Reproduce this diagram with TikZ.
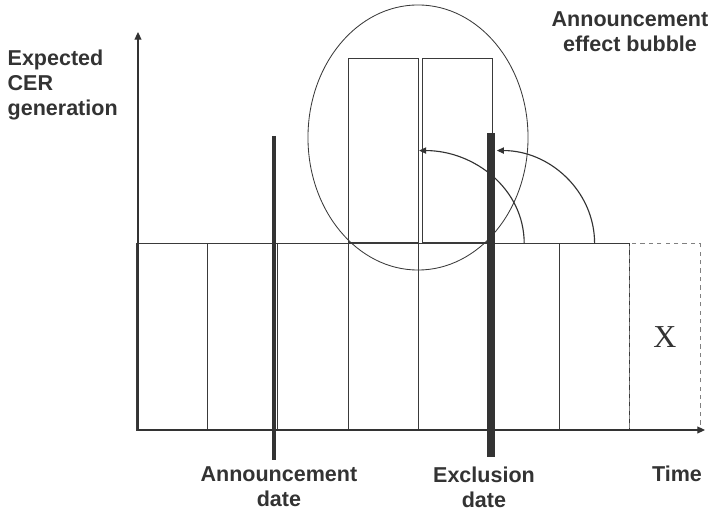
\documentclass[tikz,border=0pt]{standalone}
\usepackage{fontspec}
\setmainfont{Liberation Sans}
\newfontfamily\xserif{Liberation Serif}
\usetikzlibrary{arrows.meta,calc,positioning,shapes.geometric}
\definecolor{ink}{HTML}{333333}
\definecolor{edge}{HTML}{3A3A3A}
\definecolor{dashgray}{HTML}{808080}
\tikzset{
  bar/.style={draw=edge,line width=0.7pt,minimum width=1.76cm,minimum height=4.65cm,inner sep=0pt},
  topbar/.style={bar,minimum height=4.62cm},
  ghostbar/.style={bar,draw=dashgray,dashed},
  axis/.style={-{Triangle[length=5.5pt,width=5pt]},line width=0.8pt,draw=ink},
  arrow/.style={-{Triangle[length=5pt,width=4.5pt]},line width=0.8pt,draw=ink},
  dateline/.style={draw=ink},
  lab/.style={font=\fontsize{15.3pt}{17.7pt}\selectfont\bfseries,text=ink,align=center,inner sep=1pt}
}
\begin{document}
\begin{tikzpicture}[
    x=0.025cm,y=0.025cm,
    bubble/.style={ellipse,draw=edge,line width=0.6pt,minimum width=5.5cm,minimum height=6.625cm,inner sep=0pt}
  ]
    \useasboundingbox (0,0) rectangle (712,513);

    \coordinate (o) at (138,83);
    \coordinate (ytip) at (138,481);
    \coordinate (xtip) at (705,83);

    \foreach \i in {1,...,7}
      \node[bar] (b\i) at ({137+70.4*(\i-0.5)},176) {};
    \node[ghostbar,font=\xserif\fontsize{22.7pt}{24pt}\selectfont,text=ink] (bx) at ({137+70.4*7.5},176) {X};

    \node[topbar,anchor=south] (t1) at (b4.north) {};
    \node[topbar,right=0.06cm of t1] (t2) {};

    \node[bubble] (bub) at (418,375.5) {};

    \draw[axis] (o) -- (ytip);
    \draw[axis] (o) -- (xtip);

    \coordinate (ant) at (274,377);
    \coordinate (anb) at (274,53);
    \coordinate (ext) at (491,380);
    \coordinate (exb) at (491,56);
    \draw[dateline,line width=2.8pt] (ant) -- (anb);
    \draw[dateline,line width=5pt] (ext) -- (exb);

    \coordinate (exr) at ($(t2.east)+(4,0)$);
    \draw[arrow] (b6.north) to[out=90,in=0] (t1.east);
    \draw[arrow] (b7.north) to[out=90,in=0] (exr);

    \node[lab,align=left,anchor=west] (ylab) at (6,428) {Expected\\CER\\generation};
    \node[lab] (bublab) at (630,481.5) {Announcement\\effect bubble};
    \node[lab,below=0.13cm of anb,xshift=3.5] (anlab) {Announcement\\date};
    \node[lab,below=0.2cm of exb,xshift=-5] (exlab) {Exclusion\\date};
    \node[lab] (timelab) at (677,39) {Time};
  \end{tikzpicture}
\end{document}
